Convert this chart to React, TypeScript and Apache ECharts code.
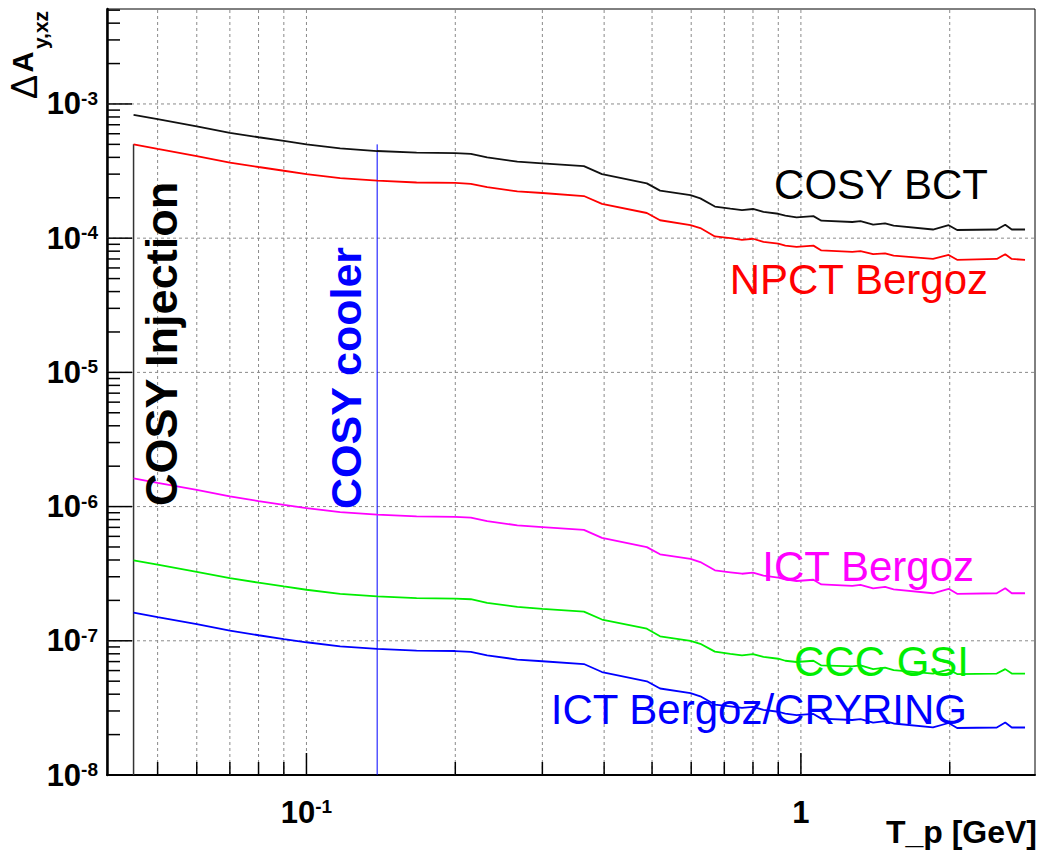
import React, { useEffect, useRef } from "react";
import * as echarts from "echarts";

// ---- data ----
const tp = [0.0447, 0.05, 0.06, 0.07, 0.08, 0.09, 0.1, 0.117, 0.139, 0.167, 0.2, 0.215, 0.232, 0.267, 0.3, 0.364, 0.396, 0.488, 0.519, 0.598, 0.626, 0.67, 0.72, 0.76, 0.8, 0.84, 0.9, 0.93, 0.98, 1.06, 1.1, 1.27, 1.32, 1.4, 1.48, 1.54, 1.85, 1.99, 2.07, 2.49, 2.59, 2.67, 2.84];

const cosyBct = [8.3e-4, 7.7e-4, 6.8e-4, 6.1e-4, 5.65e-4, 5.3e-4, 5.0e-4, 4.67e-4, 4.46e-4, 4.34e-4, 4.3e-4, 4.24e-4, 4.0e-4, 3.72e-4, 3.61e-4, 3.44e-4, 3.0e-4, 2.56e-4, 2.26e-4, 2.09e-4, 1.98e-4, 1.72e-4, 1.66e-4, 1.62e-4, 1.65e-4, 1.57e-4, 1.52e-4, 1.47e-4, 1.43e-4, 1.46e-4, 1.35e-4, 1.32e-4, 1.34e-4, 1.26e-4, 1.29e-4, 1.24e-4, 1.16e-4, 1.25e-4, 1.15e-4, 1.16e-4, 1.26e-4, 1.16e-4, 1.16e-4];

const npctBergoz = [5.0e-4, 4.62e-4, 4.08e-4, 3.66e-4, 3.39e-4, 3.18e-4, 3.0e-4, 2.8e-4, 2.68e-4, 2.6e-4, 2.58e-4, 2.54e-4, 2.4e-4, 2.23e-4, 2.17e-4, 2.06e-4, 1.8e-4, 1.54e-4, 1.36e-4, 1.25e-4, 1.19e-4, 1.03e-4, 1.0e-4, 9.7e-5, 9.9e-5, 9.4e-5, 9.1e-5, 8.8e-5, 8.6e-5, 8.8e-5, 8.1e-5, 7.9e-5, 8.0e-5, 7.6e-5, 7.7e-5, 7.4e-5, 7.0e-5, 7.5e-5, 6.9e-5, 7.0e-5, 7.6e-5, 7.0e-5, 6.9e-5];

const ictBergoz = [1.62e-6, 1.5e-6, 1.33e-6, 1.19e-6, 1.1e-6, 1.03e-6, 9.75e-7, 9.1e-7, 8.7e-7, 8.46e-7, 8.39e-7, 8.27e-7, 7.8e-7, 7.25e-7, 7.04e-7, 6.71e-7, 5.85e-7, 4.99e-7, 4.41e-7, 4.08e-7, 3.86e-7, 3.35e-7, 3.24e-7, 3.16e-7, 3.22e-7, 3.06e-7, 2.96e-7, 2.87e-7, 2.79e-7, 2.85e-7, 2.63e-7, 2.57e-7, 2.61e-7, 2.46e-7, 2.52e-7, 2.42e-7, 2.26e-7, 2.44e-7, 2.24e-7, 2.26e-7, 2.46e-7, 2.26e-7, 2.26e-7];

const cccGsi = [3.98e-7, 3.7e-7, 3.26e-7, 2.93e-7, 2.71e-7, 2.54e-7, 2.4e-7, 2.24e-7, 2.14e-7, 2.08e-7, 2.06e-7, 2.04e-7, 1.92e-7, 1.79e-7, 1.73e-7, 1.65e-7, 1.44e-7, 1.23e-7, 1.08e-7, 1.0e-7, 9.5e-8, 8.3e-8, 8.0e-8, 7.8e-8, 7.95e-8, 7.6e-8, 7.35e-8, 7.1e-8, 6.95e-8, 7.1e-8, 6.55e-8, 6.45e-8, 6.55e-8, 6.15e-8, 6.3e-8, 6.05e-8, 5.7e-8, 6.1e-8, 5.65e-8, 5.7e-8, 6.15e-8, 5.7e-8, 5.7e-8];

const ictCryring = [1.62e-7, 1.5e-7, 1.33e-7, 1.19e-7, 1.1e-7, 1.03e-7, 9.75e-8, 9.1e-8, 8.7e-8, 8.46e-8, 8.39e-8, 8.27e-8, 7.8e-8, 7.25e-8, 7.04e-8, 6.71e-8, 5.85e-8, 4.99e-8, 4.41e-8, 4.08e-8, 3.86e-8, 3.35e-8, 3.24e-8, 3.16e-8, 3.22e-8, 3.06e-8, 2.96e-8, 2.87e-8, 2.79e-8, 2.85e-8, 2.63e-8, 2.57e-8, 2.61e-8, 2.46e-8, 2.52e-8, 2.42e-8, 2.26e-8, 2.44e-8, 2.24e-8, 2.26e-8, 2.46e-8, 2.26e-8, 2.26e-8];

const injectionX = 0.0447;
const coolerX = 0.139;
const markerTop = 5.0e-4;

const X_MIN = 0.0395;
const X_MAX = 2.975;
const Y_MIN = 1e-8;
const Y_MAX = 5.1e-3;

const xTickValues = [0.05, 0.06, 0.07, 0.08, 0.09, 0.1, 0.2, 0.3, 0.4, 0.5, 0.6, 0.7, 0.8, 0.9, 1, 2];
const yDecades = [-8, -7, -6, -5, -4, -3];
const yMantissas = [1, 2, 3, 4, 5, 6, 7, 8, 9];

const FONT = '"Liberation Sans", Arial, Helvetica, sans-serif';

const isDecade = (v: number) => {
  const l = Math.log10(v);
  return Math.abs(l - Math.round(l)) < 1e-6;
};

const powLabel = (v: number) => {
  if (!isDecade(v)) return "";
  const e = Math.round(Math.log10(v));
  if (e === 0) return "{b|1}";
  return "{b|10}{s|" + e + "}";
};

const labelRich = {
  b: { fontSize: 31, fontWeight: "bold", fontFamily: FONT, color: "#000", lineHeight: 30 },
  s: { fontSize: 19, fontWeight: "bold", fontFamily: FONT, color: "#000", lineHeight: 16, verticalAlign: "top" },
};

export default function App() {
  const ref = useRef<HTMLDivElement>(null);

  useEffect(() => {
    if (!ref.current) return;
    const chart = echarts.init(ref.current, undefined, { renderer: "svg" });

    const yTickValues: number[] = [];
    yDecades.forEach((d) => {
      yMantissas.forEach((m) => {
        const v = m * Math.pow(10, d);
        if (v <= Y_MAX) yTickValues.push(v);
      });
    });

    const curve = (name: string, values: number[], color: string) => ({
      type: "line",
      name,
      data: tp.map((x, i) => [x, values[i]]),
      showSymbol: false,
      symbol: "none",
      lineStyle: { color, width: 1.8 },
      z: 4,
      silent: true,
    });

    const bigText = (text: string, right: number, cy: number, color: string) => ({
      type: "text",
      x: right,
      y: cy,
      z: 10,
      style: {
        text,
        fill: color,
        fontSize: 42,
        fontFamily: FONT,
        align: "right",
        verticalAlign: "middle",
      },
    });

    const rotText = (text: string, cx: number, cy: number, color: string, size: number, weight: string) => ({
      type: "text",
      x: cx,
      y: cy,
      rotation: Math.PI / 2,
      z: 10,
      style: {
        text,
        fill: color,
        fontSize: size,
        fontWeight: weight,
        fontFamily: FONT,
        align: "center",
        verticalAlign: "middle",
      },
    });

    const option: any = {
      animation: false,
      backgroundColor: "#fff",
      grid: {
        left: 107,
        right: 4,
        top: 9,
        bottom: 82,
        show: true,
        borderColor: "#000",
        borderWidth: 1,
        backgroundColor: "transparent",
      },
      xAxis: {
        type: "log",
        logBase: 10,
        min: X_MIN,
        max: X_MAX,
        axisLine: { show: true, onZero: false, lineStyle: { color: "#000", width: 2 } },
        axisTick: { show: false },
        splitLine: { show: false },
        axisLabel: {
          margin: 22,
          showMinLabel: false,
          showMaxLabel: false,
          formatter: powLabel,
          rich: labelRich,
        },
      },
      yAxis: {
        type: "log",
        logBase: 10,
        min: Y_MIN,
        max: Y_MAX,
        axisLine: { show: true, onZero: false, lineStyle: { color: "#000", width: 2.5 } },
        axisTick: { show: false },
        splitLine: { show: false },
        axisLabel: {
          margin: 9,
          showMinLabel: true,
          showMaxLabel: false,
          formatter: powLabel,
          rich: labelRich,
        },
      },
      series: [
        {
          type: "custom",
          coordinateSystem: "cartesian2d",
          silent: true,
          z: 1,
          clip: false,
          encode: { x: 0, y: 1 },
          data: xTickValues.map((v) => [v, Y_MIN]),
          renderItem: (_p: any, api: any) => {
            const x = api.value(0);
            const b = api.coord([x, Y_MIN]);
            const t = api.coord([x, Y_MAX]);
            const major = isDecade(x);
            return {
              type: "group",
              children: [
                {
                  type: "line",
                  shape: { x1: b[0], y1: b[1], x2: t[0], y2: t[1] },
                  style: { stroke: "#8a8a8a", lineWidth: 1, lineDash: [3, 3] },
                },
                {
                  type: "line",
                  shape: { x1: b[0], y1: b[1], x2: b[0], y2: b[1] - (major ? 22 : 13) },
                  style: { stroke: "#000", lineWidth: 1.5 },
                },
              ],
            };
          },
        },
        {
          type: "custom",
          coordinateSystem: "cartesian2d",
          silent: true,
          z: 1,
          clip: false,
          encode: { x: 0, y: 1 },
          data: yTickValues.map((v) => [X_MIN, v]),
          renderItem: (_p: any, api: any) => {
            const y = api.value(1);
            const l = api.coord([X_MIN, y]);
            const r = api.coord([X_MAX, y]);
            const major = isDecade(y);
            const children: any[] = [];
            if (major && y > Y_MIN * 1.01) {
              children.push({
                type: "line",
                shape: { x1: l[0], y1: l[1], x2: r[0], y2: r[1] },
                style: { stroke: "#8a8a8a", lineWidth: 1, lineDash: [3, 3] },
              });
            }
            children.push({
              type: "line",
              shape: { x1: l[0], y1: l[1], x2: l[0] + (major ? 25 : 13), y2: l[1] },
              style: { stroke: "#000", lineWidth: 1.5 },
            });
            return { type: "group", children };
          },
        },
        {
          type: "line",
          name: "COSY Injection",
          data: [[injectionX, markerTop], [injectionX, Y_MIN]],
          showSymbol: false,
          symbol: "none",
          lineStyle: { color: "#333", width: 1.5 },
          z: 3,
          silent: true,
        },
        {
          type: "line",
          name: "COSY cooler",
          data: [[coolerX, markerTop], [coolerX, Y_MIN]],
          showSymbol: false,
          symbol: "none",
          lineStyle: { color: "#0000ff", width: 1 },
          z: 3,
          silent: true,
        },
        curve("COSY BCT", cosyBct, "#111"),
        curve("NPCT Bergoz", npctBergoz, "#ff0000"),
        curve("ICT Bergoz", ictBergoz, "#ff00ff"),
        curve("CCC GSI", cccGsi, "#00ee00"),
        curve("ICT Bergoz/CRYRING", ictCryring, "#0000ff"),
      ],
      graphic: [
        bigText("COSY BCT", 988, 184, "#000"),
        bigText("NPCT Bergoz", 988, 279, "#ff0000"),
        bigText("ICT Bergoz", 974, 566, "#ff00ff"),
        bigText("CCC GSI", 969, 661, "#00ee00"),
        bigText("ICT Bergoz/CRYRING", 967, 709, "#0000ff"),
        rotText("COSY Injection", 161, 344, "#000", 45, "bold"),
        rotText("COSY cooler", 346, 378, "#0000ff", 43, "bold"),
        rotText("\u0394", 24, 87, "#000", 36, "normal"),
        rotText("A", 23, 62, "#000", 29, "bold"),
        rotText("y,xz", 40, 30, "#000", 21, "bold"),
        {
          type: "text",
          x: 1037,
          y: 832,
          z: 10,
          style: {
            text: "T_p [GeV]",
            fill: "#000",
            fontSize: 32,
            fontWeight: "bold",
            fontFamily: FONT,
            align: "right",
            verticalAlign: "middle",
          },
        },
      ],
    };

    chart.setOption(option);
    return () => {
      chart.dispose();
    };
  }, []);

  return (
    <div
      ref={ref}
      style={{ position: "fixed", left: 0, top: 0, width: 1039, height: 857 }}
    />
  );
}
